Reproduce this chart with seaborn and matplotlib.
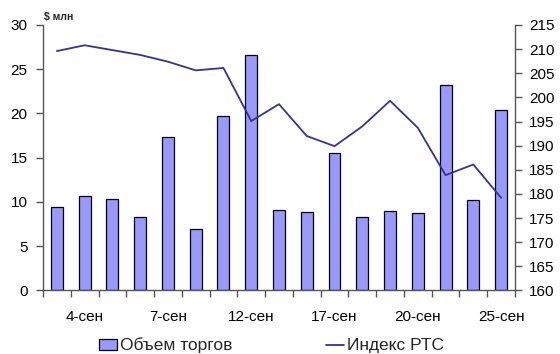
import numpy as np
import pandas as pd
import matplotlib
matplotlib.use("Agg")
import matplotlib.pyplot as plt
import seaborn as sns
from matplotlib.patches import Patch
from matplotlib.lines import Line2D

# Trading days, September
dates = ["3-сен", "4-сен", "5-сен", "6-сен", "7-сен", "10-сен", "11-сен", "12-сен",
         "13-сен", "14-сен", "17-сен", "18-сен", "19-сен", "20-сен", "21-сен",
         "24-сен", "25-сен"]
# Trading volume, $ mln
volume = [9.4, 10.65, 10.3, 8.3, 17.4, 6.9, 19.7, 26.6, 9.1, 8.9, 15.55, 8.3,
          9.0, 8.75, 23.25, 10.2, 20.45]
# RTS index
rts = [209.6, 210.8, 209.8, 208.8, 207.4, 205.6, 206.1, 195.1, 198.6, 192.0,
       189.9, 194.0, 199.3, 193.7, 183.9, 186.1, 179.2]
shown_labels = ["4-сен", "7-сен", "12-сен", "17-сен", "20-сен", "25-сен"]

bar_color = "#9999FF"
line_color = "#333399"
axis_color = "#555555"

sns.set_theme(style="white")
plt.rcParams["font.family"] = ["Liberation Sans", "DejaVu Sans"]

df = pd.DataFrame({"date": dates, "volume": volume, "rts": rts,
                   "pos": np.arange(len(dates))})

fig = plt.figure(figsize=(5.6, 3.54), dpi=100)
ax = fig.add_axes([0.0768, 0.1794, 0.9196 - 0.0768, 0.9294 - 0.1794])

sns.barplot(data=df, x="date", y="volume", ax=ax, color=bar_color,
            saturation=1, width=0.43, edgecolor="black", linewidth=0.9)

ax2 = ax.twinx()
sns.lineplot(data=df, x="pos", y="rts", ax=ax2, color=line_color,
             linewidth=1.3, legend=False)

n = len(dates)
ax.set_xlim(-0.5, n - 0.5)
ax.set_ylim(0, 30)
ax2.set_ylim(160, 215)
ax.set_yticks(np.arange(0, 31, 5))
ax2.set_yticks(np.arange(160, 216, 5))

# tick marks sit between categories; labels on every third day
ax.set_xticks(np.arange(-0.5, n, 1.0))
ax.set_xticklabels([])
label_pos = [dates.index(d) for d in shown_labels]
ax.set_xticks(label_pos, minor=True)
ax.set_xticklabels(shown_labels, minor=True)

for a in (ax, ax2):
    a.set_xlabel("")
    a.set_ylabel("")
    for s in a.spines.values():
        s.set_color(axis_color)
        s.set_linewidth(1.0)
    a.spines["top"].set_visible(False)

ax.tick_params(axis="x", which="major", direction="out", length=5, width=1,
               color=axis_color, bottom=True)
ax.tick_params(axis="x", which="minor", length=0, pad=14, labelsize=11,
               labelcolor="black", bottom=True)
ax.tick_params(axis="y", direction="out", length=5, width=1, color=axis_color,
               labelsize=11, labelcolor="black", left=True, pad=6)
ax2.tick_params(axis="y", direction="out", length=5, width=1, color=axis_color,
                labelsize=11, labelcolor="black", right=True, pad=5)
ax.spines["right"].set_visible(False)
ax2.spines["left"].set_visible(False)
ax2.spines["bottom"].set_visible(False)

fig.text(44 / 560, 1 - 17 / 354, "$ млн", fontsize=7.5, fontweight="bold",
         ha="left", va="center")

handles = [Patch(facecolor=bar_color, edgecolor="black", linewidth=0.9),
           Line2D([0], [0], color=line_color, linewidth=1.3)]
fig.legend(handles, ["Объем торгов", "Индекс РТС"], loc="center",
           bbox_to_anchor=(271.5 / 560, 1 - 345.5 / 354), ncol=2, frameon=False,
           fontsize=12.5, handlelength=1.05, handleheight=0.55,
           handletextpad=0.15, columnspacing=5.4, borderpad=0)

fig.savefig("out.png", dpi=100)
